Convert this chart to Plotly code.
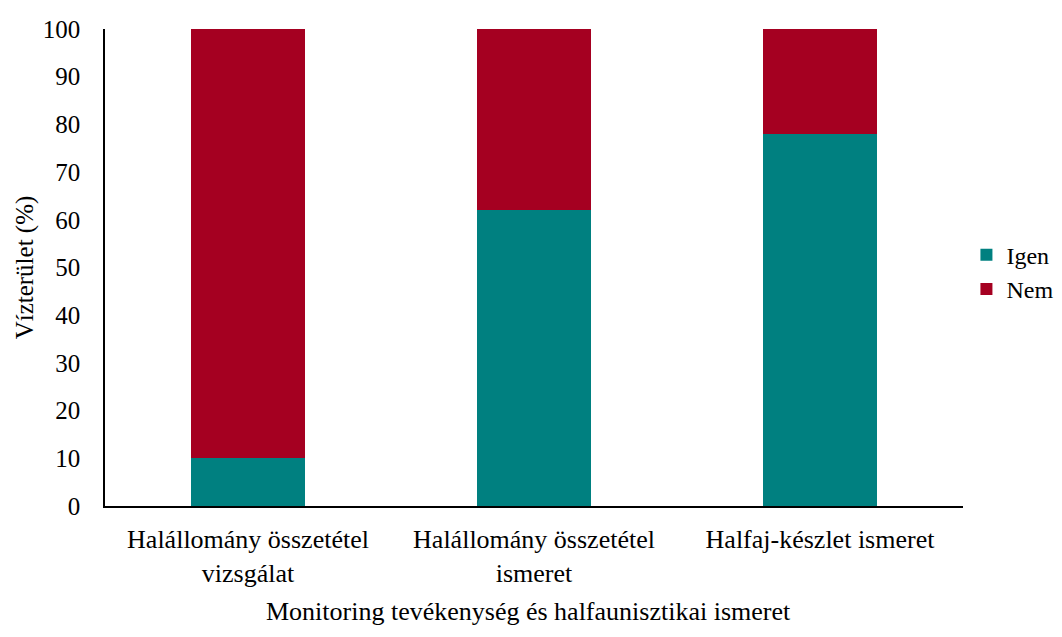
import plotly.graph_objects as go

# Monitoring categories (two-line labels as on the original)
categories = [
    "Halállomány összetétel<br>vizsgálat",
    "Halállomány összetétel<br>ismeret",
    "Halfaj-készlet ismeret",
]
igen = [10, 62, 78]
nem = [90, 38, 22]
y_ticks = [0, 10, 20, 30, 40, 50, 60, 70, 80, 90, 100]

serif = "Times New Roman, Liberation Serif, serif"

fig = go.Figure()

fig.add_trace(go.Bar(x=categories, y=igen, name="Igen",
                     marker=dict(color="#008080", line=dict(width=0))))
fig.add_trace(go.Bar(x=categories, y=nem, name="Nem",
                     marker=dict(color="#A50021", line=dict(width=0))))

# page body has an 8px margin, so the figure is a bit smaller than the window
fig.update_layout(
    barmode="stack",
    bargap=0.6,
    width=1046,
    height=621,
    margin=dict(l=97, r=91, t=21, b=123, autoexpand=False),
    plot_bgcolor="white",
    paper_bgcolor="white",
    font=dict(family=serif, size=25, color="black"),
    legend=dict(
        x=1.004, y=0.49, xanchor="left", yanchor="middle",
        traceorder="normal",
        font=dict(size=24), itemwidth=30, tracegroupgap=0,
        bgcolor="rgba(0,0,0,0)",
    ),
    xaxis=dict(
        showline=True, linecolor="black", linewidth=1.5,
        ticks="", tickfont=dict(size=26), ticklabelstandoff=9,
    ),
    yaxis=dict(
        range=[0, 100], tickvals=y_ticks,
        showline=True, linecolor="black", linewidth=1.5,
        showgrid=False, zeroline=False, ticks="",
        tickfont=dict(size=25), ticklabelstandoff=18,
        title=dict(text="Vízterület (%)", font=dict(size=25), standoff=2),
    ),
)

# x title placed by hand, as low as it fits without clipping
fig.add_annotation(
    text="Monitoring tevékenység és halfaunisztikai ismeret",
    xref="paper", yref="paper",
    x=0.494, y=-0.221,
    xanchor="center", yanchor="middle",
    showarrow=False,
    font=dict(size=26),
)

fig.write_html("out.html")
